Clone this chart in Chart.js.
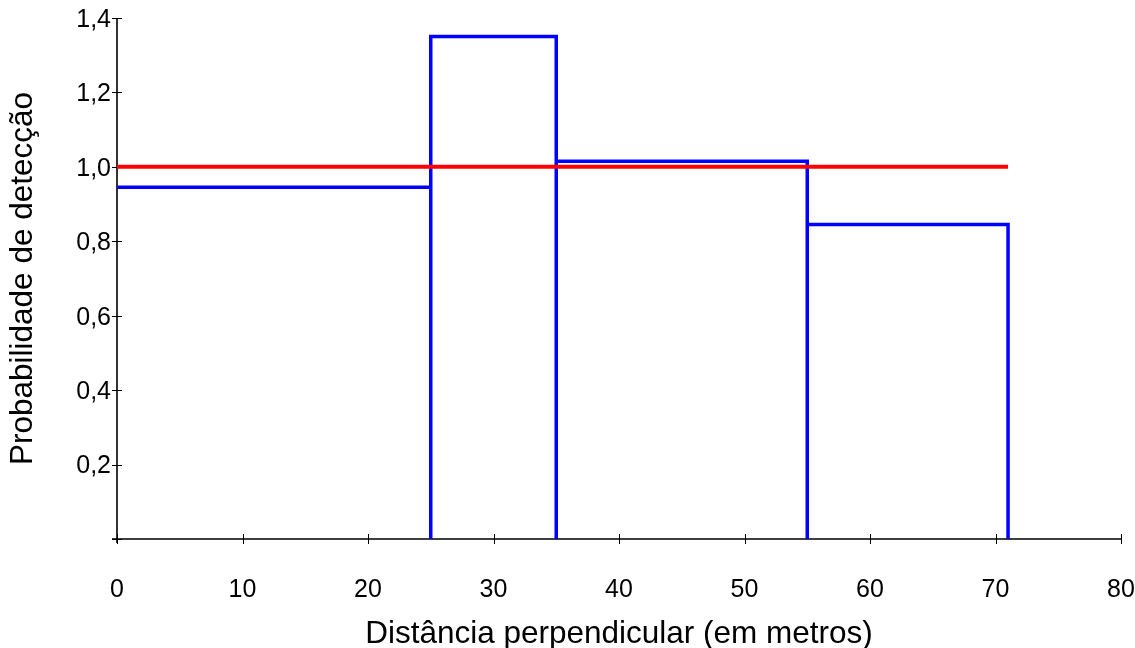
<!DOCTYPE html>
<html>
<head>
<meta charset="utf-8">
<script src="https://cdn.jsdelivr.net/npm/chart.js@4/dist/chart.umd.min.js"></script>
<style>
  html, body { margin: 0; padding: 0; background: #ffffff; }
  #wrap { width: 1135px; height: 648px; }
</style>
</head>
<body>
<div id="wrap"><canvas id="c" width="1135" height="648"></canvas></div>
<script>
// ---- data ----
const binEdges = [0, 25, 35, 55, 71];
const binValues = [0.945, 1.35, 1.015, 0.845];
const refLineX = [0, 71];
const refLineY = [1.0, 1.0];
const xTickValues = [0, 10, 20, 30, 40, 50, 60, 70, 80];
const xTickLabels = ['0', '10', '20', '30', '40', '50', '60', '70', '80'];
const yTickValues = [0, 0.2, 0.4, 0.6, 0.8, 1.0, 1.2, 1.4];
const yTickLabels = ['', '0,2', '0,4', '0,6', '0,8', '1,0', '1,2', '1,4'];
const xTitle = 'Distância perpendicular (em metros)';
const yTitle = 'Probabilidade de detecção';

// build outline of histogram from bins
const histPoints = [];
for (let i = 0; i < binValues.length; i++) {
  const x0 = binEdges[i], x1 = binEdges[i + 1], v = binValues[i];
  if (i > 0) histPoints.push({ x: x0, y: 0 });
  histPoints.push({ x: x0, y: v });
  histPoints.push({ x: x1, y: v });
}
histPoints.push({ x: binEdges[binEdges.length - 1], y: 0 });

const refPoints = refLineX.map((x, i) => ({ x: x, y: refLineY[i] }));

const FONT = "'Liberation Sans', Arial, sans-serif";

const axesPlugin = {
  id: 'crossAxes',
  beforeDatasetsDraw(chart) {
    const ctx = chart.ctx;
    const xs = chart.scales.x, ys = chart.scales.y;
    const x0 = xs.getPixelForValue(0);
    const y0 = ys.getPixelForValue(0);
    ctx.save();
    ctx.strokeStyle = '#000000';
    ctx.lineWidth = 1.6;
    ctx.beginPath();
    ctx.moveTo(x0, ys.getPixelForValue(1.4));
    ctx.lineTo(x0, y0 + 4);
    ctx.moveTo(x0 - 5, y0);
    ctx.lineTo(xs.getPixelForValue(80), y0);
    ctx.stroke();
    ctx.lineWidth = 1;
    ctx.beginPath();
    yTickValues.forEach(v => {
      const py = Math.round(ys.getPixelForValue(v)) + 0.5;
      ctx.moveTo(x0 - 5, py);
      ctx.lineTo(x0 + 5, py);
    });
    xTickValues.forEach(v => {
      const px = Math.round(xs.getPixelForValue(v)) + 0.5;
      ctx.moveTo(px, y0 - 5);
      ctx.lineTo(px, y0 + 5);
    });
    ctx.stroke();
    ctx.restore();
  }
};

new Chart(document.getElementById('c'), {
  type: 'scatter',
  data: {
    datasets: [
      {
        data: refPoints,
        showLine: true,
        borderColor: '#ff0000',
        borderWidth: 4,
        pointRadius: 0,
        tension: 0,
        fill: false
      },
      {
        data: histPoints,
        showLine: true,
        borderColor: '#0000ff',
        borderWidth: 3.5,
        pointRadius: 0,
        tension: 0,
        fill: false,
        borderJoinStyle: 'miter'
      }
    ]
  },
  plugins: [axesPlugin],
  options: {
    responsive: false,
    devicePixelRatio: 1,
    animation: false,
    events: [],
    layout: { padding: { left: 0, right: 14, top: 18, bottom: 0 } },
    plugins: {
      legend: { display: false },
      tooltip: { enabled: false },
      title: { display: false }
    },
    scales: {
      x: {
        type: 'linear',
        min: 0,
        max: 80,
        afterBuildTicks: (s) => { s.ticks = xTickValues.map(v => ({ value: v })); },
        afterFit: (s) => { s.height = 109; s.paddingLeft = 0; s.paddingRight = 0; },
        grid: { display: false, drawTicks: false },
        border: { display: false },
        ticks: {
          color: '#000000',
          font: { family: FONT, size: 25 },
          padding: 36,
          maxRotation: 0,
          autoSkip: false,
          callback: (v) => {
            const i = xTickValues.indexOf(v);
            return i >= 0 ? xTickLabels[i] : '';
          }
        },
        title: {
          display: true,
          text: xTitle,
          color: '#000000',
          font: { family: FONT, size: 31.5, lineHeight: 0.8 },
          padding: { top: 0, bottom: 1 }
        }
      },
      y: {
        type: 'linear',
        min: 0,
        max: 1.4,
        afterBuildTicks: (s) => { s.ticks = yTickValues.map(v => ({ value: v })); },
        afterFit: (s) => { s.width = 117; s.paddingTop = 0; s.paddingBottom = 0; },
        grid: { display: false, drawTicks: false },
        border: { display: false },
        ticks: {
          color: '#000000',
          font: { family: FONT, size: 25 },
          padding: 6,
          labelOffset: 2,
          autoSkip: false,
          callback: (v) => {
            const i = yTickValues.findIndex(t => Math.abs(t - v) < 1e-9);
            return i >= 0 ? yTickLabels[i] : '';
          }
        },
        title: {
          display: true,
          text: yTitle,
          color: '#000000',
          font: { family: FONT, size: 31.5, lineHeight: 0.8 },
          padding: { top: 11, bottom: 0 }
        }
      }
    }
  }
});
</script>
</body>
</html>
